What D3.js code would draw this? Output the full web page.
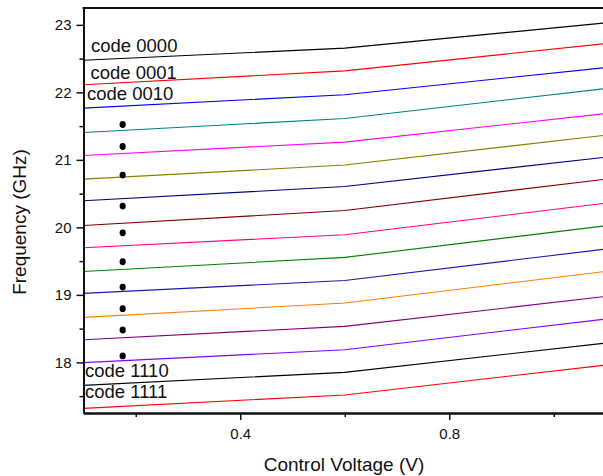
<!DOCTYPE html>
<html>
<head>
<meta charset="utf-8">
<script src="https://cdn.jsdelivr.net/npm/d3@7"></script>
<style>
  body { margin: 0; background: #fff; }
  svg { font-family: "Liberation Sans", Arial, sans-serif; }
</style>
</head>
<body>
<div id="chart"></div>
<script>
// control voltage sample points (V)
const voltages = [0.1, 0.6, 1.1];

// one row per code, frequency (GHz) at each voltage
const freqs = [
    [22.477, 22.655, 23.030],
    [22.112, 22.319, 22.723],
    [21.767, 21.964, 22.368],
    [21.405, 21.613, 22.057],
    [21.065, 21.263, 21.687],
    [20.715, 20.923, 21.367],
    [20.394, 20.606, 21.041],
    [20.028, 20.249, 20.715],
    [19.698, 19.891, 20.360],
    [19.347, 19.555, 20.024],
    [19.022, 19.214, 19.679],
    [18.666, 18.879, 19.347],
    [18.336, 18.533, 18.977],
    [17.996, 18.188, 18.643],
    [17.659, 17.852, 18.287],
    [17.319, 17.517, 17.961]
];

const lineColors = ['#000000', '#ff0000', '#0000ff', '#008080', '#ff00ff', '#808000', '#000080', '#800000',
                    '#ff0080', '#008000', '#1a1aa8', '#ff8000', '#800080', '#8000ff', '#000000', '#ff0000'];

// ellipsis dots between the labelled codes
const dotVoltage = 0.175;
const dotFreqs = [21.524, 21.198, 20.775, 20.316, 19.920, 19.491, 19.116, 18.795, 18.480, 18.095];

// code labels: text, voltage, frequency of baseline
const codeLabels = [
    { text: 'code 0000', v: 0.1144, f: 22.591 },
    { text: 'code 0001', v: 0.1134, f: 22.191 },
    { text: 'code 0010', v: 0.1067, f: 21.894 },
    { text: 'code 1110', v: 0.1029, f: 17.776 },
    { text: 'code 1111', v: 0.1029, f: 17.465 }
];

const yTicks = [18, 19, 20, 21, 22, 23];
const yMinor = [17.5, 18.5, 19.5, 20.5, 21.5, 22.5];
const xTicks = [0.4, 0.8];
const xMinor = [0.2, 0.6, 1.0];

const W = 603, H = 476;
const margin = { top: 8, right: -3, bottom: 63, left: 83.5 };

const svg = d3.select('#chart').append('svg')
    .attr('width', W)
    .attr('height', H);

const x = d3.scaleLinear()
    .domain([0.1, 1.1])
    .range([margin.left, W - margin.right]);

const y = d3.scaleLinear()
    .domain([17.25, 23.25])
    .range([H - margin.bottom, margin.top]);

// data lines
const line = d3.line()
    .x((d, i) => x(voltages[i]))
    .y(d => y(d));

svg.append('g')
    .selectAll('path')
    .data(freqs)
  .enter().append('path')
    .attr('d', d => line(d))
    .attr('fill', 'none')
    .attr('stroke', (d, i) => lineColors[i])
    .attr('stroke-width', 1.1);

// dots
svg.append('g')
    .selectAll('ellipse')
    .data(dotFreqs)
  .enter().append('ellipse')
    .attr('cx', x(dotVoltage))
    .attr('cy', d => y(d))
    .attr('rx', 3.1)
    .attr('ry', 3.4)
    .attr('fill', '#000');

// labels
svg.append('g')
    .selectAll('text')
    .data(codeLabels)
  .enter().append('text')
    .attr('x', d => x(d.v))
    .attr('y', d => y(d.f))
    .attr('font-size', '18.5px')
    .attr('fill', '#111')
    .text(d => d.text);

// axes
const yAxis = svg.append('g')
    .attr('transform', `translate(${margin.left},0)`)
    .call(d3.axisLeft(y).tickValues(yTicks).tickSize(7).tickSizeOuter(0).tickPadding(5).tickFormat(d3.format('d')));

const yAxisMinor = svg.append('g')
    .attr('transform', `translate(${margin.left},0)`)
    .call(d3.axisLeft(y).tickValues(yMinor).tickSize(4).tickSizeOuter(0).tickFormat(''));

const xAxis = svg.append('g')
    .attr('transform', `translate(0,${H - margin.bottom})`)
    .call(d3.axisBottom(x).tickValues(xTicks).tickSize(7).tickSizeOuter(0).tickPadding(8).tickFormat(d3.format('.1f')));

const xAxisMinor = svg.append('g')
    .attr('transform', `translate(0,${H - margin.bottom})`)
    .call(d3.axisBottom(x).tickValues(xMinor).tickSize(4).tickSizeOuter(0).tickFormat(''));

[yAxis, yAxisMinor, xAxis, xAxisMinor].forEach(g => {
    g.select('.domain').attr('stroke', '#111').attr('stroke-width', 2);
    g.selectAll('.tick line').attr('stroke', '#111').attr('stroke-width', 1.5);
    g.selectAll('.tick text').attr('font-size', '15px').attr('fill', '#111')
        .attr('font-family', '"Liberation Sans", Arial, sans-serif');
});

// top frame line
svg.append('line')
    .attr('x1', margin.left - 1)
    .attr('x2', W)
    .attr('y1', margin.top)
    .attr('y2', margin.top)
    .attr('stroke', '#111')
    .attr('stroke-width', 2);

// axis titles
svg.append('text')
    .attr('x', 344)
    .attr('y', 471)
    .attr('text-anchor', 'middle')
    .attr('font-size', '19px')
    .attr('fill', '#111')
    .text('Control Voltage (V)');

svg.append('text')
    .attr('transform', 'translate(26,222) rotate(-90)')
    .attr('text-anchor', 'middle')
    .attr('font-size', '19px')
    .attr('fill', '#111')
    .text('Frequency (GHz)');
</script>
</body>
</html>
